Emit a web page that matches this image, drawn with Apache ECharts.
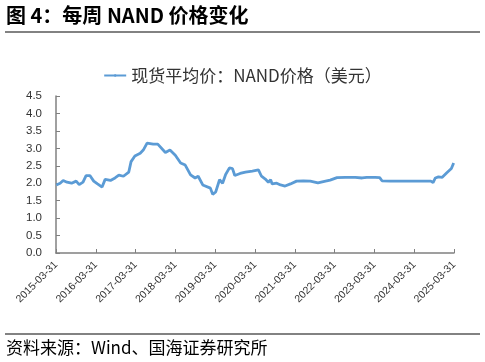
<!DOCTYPE html>
<html>
<head>
<meta charset="utf-8">
<script src="https://cdn.jsdelivr.net/npm/echarts@6/dist/echarts.min.js"></script>
<style>html,body{margin:0;padding:0;background:#fff}#c{width:485px;height:362px}</style>
</head>
<body>
<div id="c"></div>
<script>
var seriesName = '现货平均价：NAND价格（美元）';
var dates = ["2015-04-03","2015-05-08","2015-06-05","2015-07-10","2015-08-21","2015-10-02","2015-10-30","2015-12-04","2016-01-01","2016-02-05","2016-03-11","2016-04-15","2016-05-27","2016-06-24","2016-08-12","2016-09-23","2016-10-28","2016-12-09","2017-01-27","2017-02-17","2017-03-24","2017-05-12","2017-06-09","2017-07-14","2017-09-08","2017-10-20","2017-12-29","2018-02-09","2018-03-30","2018-05-18","2018-06-29","2018-08-17","2018-09-28","2018-10-26","2018-12-07","2019-02-15","2019-03-08","2019-04-05","2019-05-10","2019-06-07","2019-07-05","2019-08-09","2019-09-06","2019-09-27","2019-11-15","2020-01-03","2020-03-06","2020-05-01","2020-05-29","2020-07-03","2020-07-31","2020-08-21","2020-09-04","2020-10-16","2020-11-20","2021-01-01","2021-02-19","2021-04-16","2021-06-18","2021-08-20","2021-10-29","2022-01-07","2022-02-18","2022-04-22","2022-07-08","2022-10-07","2022-12-09","2023-01-20","2023-04-07","2023-05-19","2023-06-09","2023-08-25","2024-01-05","2024-05-31","2024-08-30","2024-09-20","2024-10-11","2024-11-08","2024-12-13","2025-01-24","2025-03-07","2025-03-28"];
var prices = [1.95,2.00,2.08,2.03,2.00,2.06,1.96,2.03,2.22,2.22,2.06,1.98,1.89,2.11,2.08,2.15,2.23,2.20,2.32,2.62,2.78,2.86,2.95,3.15,3.12,3.12,2.88,2.95,2.80,2.58,2.52,2.24,2.15,2.20,1.95,1.86,1.68,1.75,2.10,2.00,2.25,2.44,2.42,2.22,2.28,2.32,2.35,2.38,2.20,2.12,2.03,2.10,1.98,2.00,1.95,1.92,1.98,2.06,2.07,2.06,2.01,2.06,2.09,2.16,2.17,2.17,2.15,2.17,2.17,2.16,2.07,2.06,2.06,2.06,2.06,2.02,2.15,2.18,2.17,2.30,2.42,2.58];
var tickDates = ["2015-03-31","2016-03-31","2017-03-31","2018-03-31","2019-03-31","2020-03-31","2021-03-31","2022-03-31","2023-03-31","2024-03-31","2025-03-31"];

function ts(s){var p=s.split('-');return Date.UTC(+p[0],+p[1]-1,+p[2]);}
function fmt(t){var d=new Date(t);var m=d.getUTCMonth()+1,dd=d.getUTCDate();return d.getUTCFullYear()+'-'+(m<10?'0':'')+m+'-'+(dd<10?'0':'')+dd;}
var tickTs = tickDates.map(ts);
var data = dates.map(function(d,i){return [ts(d), prices[i]];});

var chart = echarts.init(document.getElementById('c'));
chart.setOption({
  animation:false,
  backgroundColor:'#fff',
  grid:{left:56,right:31,top:96,bottom:109,containLabel:false},
  legend:{
    data:[seriesName], top:62, left:'center',
    itemWidth:22, itemHeight:3, itemGap:6,
    textStyle:{fontFamily:'Noto Sans CJK SC',fontSize:17,color:'#333'}
  },
  xAxis:{
    type:'value', min:tickTs[0], max:tickTs[tickTs.length-1],
    splitLine:{show:false},
    axisLine:{lineStyle:{color:'#808080',width:1.5}},
    axisTick:{inside:true,length:4,customValues:tickTs,lineStyle:{color:'#808080'}},
    axisLabel:{customValues:tickTs,rotate:45,fontSize:10.5,color:'#333',fontFamily:'Liberation Sans',margin:10,
      formatter:function(v){return fmt(v);}}
  },
  yAxis:{
    type:'value', min:0, max:4.5, interval:0.5,
    splitLine:{show:false},
    axisLine:{show:true,lineStyle:{color:'#808080',width:1.5}},
    axisTick:{show:true,inside:true,length:4,lineStyle:{color:'#808080'}},
    axisLabel:{fontSize:11.5,color:'#333',fontFamily:'Liberation Sans',margin:14,
      formatter:function(v){return v.toFixed(1);}}
  },
  series:[{
    name:seriesName, type:'line', data:data, symbol:'none', smooth:false,
    lineStyle:{color:'#5B9BD5',width:2.8}, itemStyle:{color:'#5B9BD5'}
  }],
  graphic:[
    {type:'text',left:6,top:5,style:{text:'图 4：每周 NAND 价格变化',font:'bold 20px "Noto Sans CJK SC"',fill:'#000'}},
    {type:'line',shape:{x1:5,y1:32,x2:480,y2:32},style:{stroke:'#595959',lineWidth:1.5}},
    {type:'line',shape:{x1:5,y1:334,x2:480,y2:334},style:{stroke:'#595959',lineWidth:1.5}},
    {type:'text',left:6,top:339,style:{text:'资料来源：Wind、国海证券研究所',font:'17px "Noto Sans CJK SC"',fill:'#000'}}
  ]
});
</script>
</body>
</html>
